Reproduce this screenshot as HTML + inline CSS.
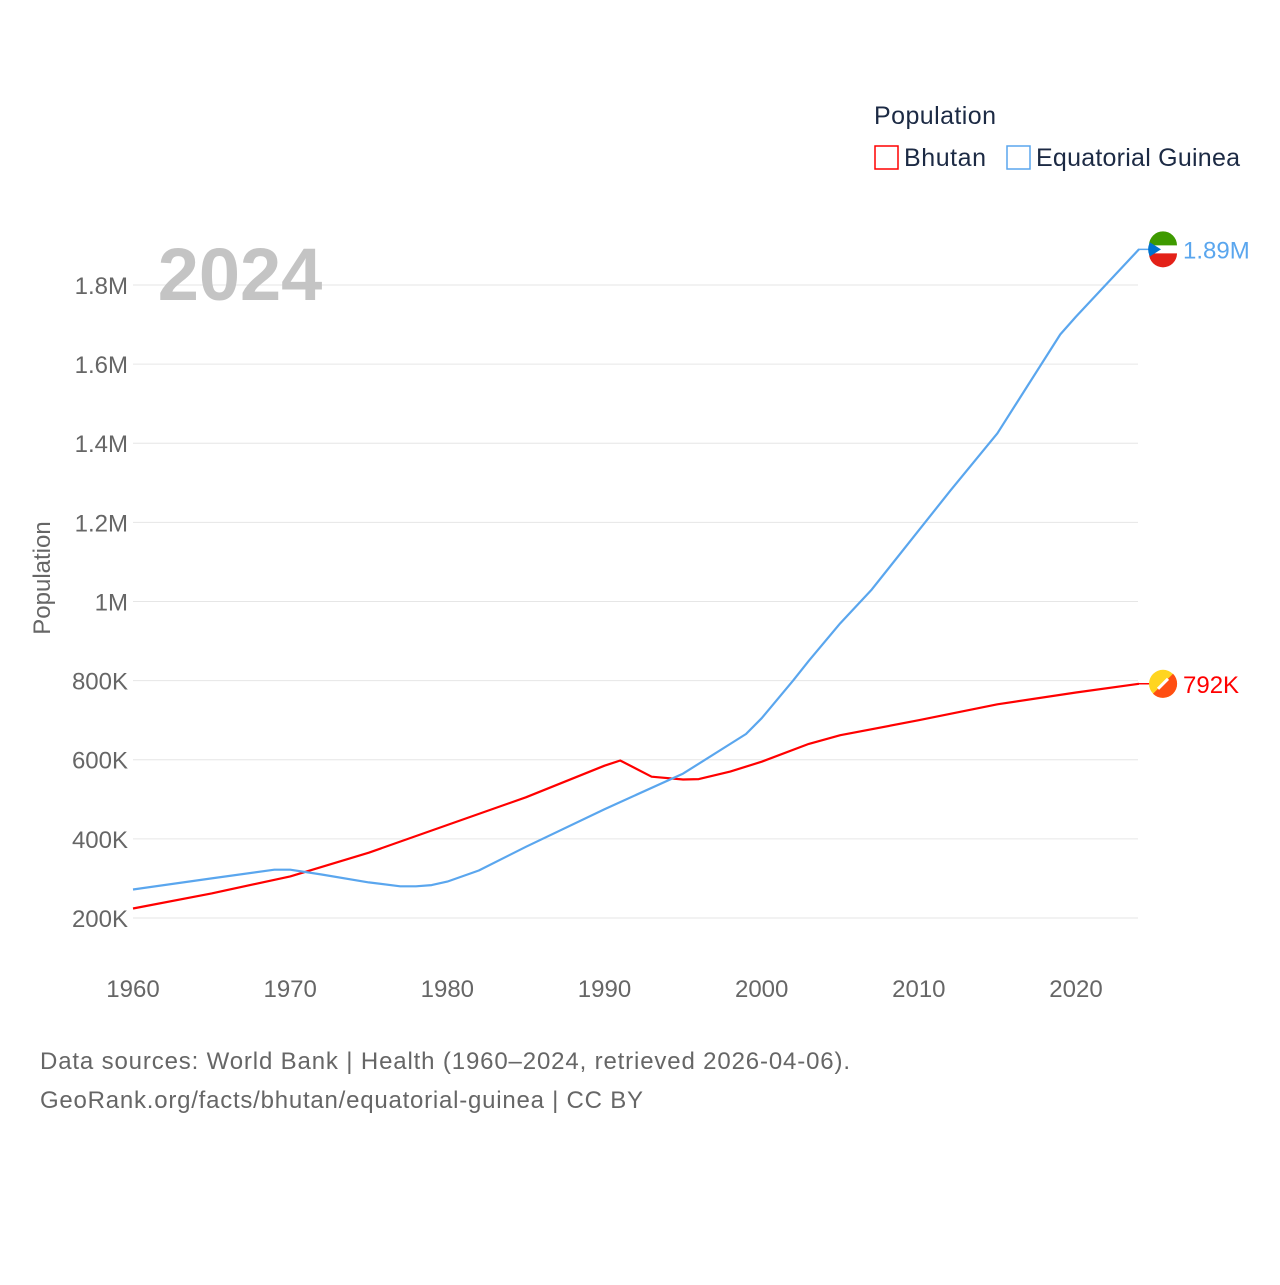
<!DOCTYPE html>
<html><head><meta charset="utf-8">
<style>
html,body{margin:0;padding:0;background:#fff;}
body{width:1280px;height:1280px;overflow:hidden;font-family:"Liberation Sans",sans-serif;}
svg text{font-family:"Liberation Sans",sans-serif;}
</style></head>
<body>
<svg id="chart" width="1280" height="1280" viewBox="0 0 1280 1280">
  <g id="grid"></g>
  <g id="yticks"></g>
  <g id="xticks"></g>
  <text x="240" y="300" font-size="74" font-weight="bold" fill="#c4c4c4" text-anchor="middle">2024</text>
  <text transform="translate(50,578) rotate(-90)" font-size="24" fill="#666" text-anchor="middle">Population</text>
  <g id="series"></g>
  <g>
    <text x="874" y="124" font-size="25" fill="#1c2a44" textLength="122">Population</text>
    <g>
      <rect x="875" y="146" width="23" height="23" fill="none" stroke="#ff0000" stroke-width="1.5"/>
      <text x="904" y="166" font-size="25" fill="#1c2a44" textLength="82">Bhutan</text>
    </g>
    <g>
      <rect x="1007" y="146" width="23" height="23" fill="none" stroke="#5aa6ee" stroke-width="1.5"/>
      <text x="1036" y="166" font-size="25" fill="#1c2a44" textLength="204">Equatorial Guinea</text>
    </g>
  </g>
  <text x="40" y="1069" font-size="24" fill="#666" textLength="810">Data sources: World Bank | Health (1960–2024, retrieved 2026-04-06).</text>
  <text x="40" y="1108" font-size="24" fill="#666" textLength="603">GeoRank.org/facts/bhutan/equatorial-guinea | CC BY</text>
</svg>
<script>
const yTicks=[200000,400000,600000,800000,1000000,1200000,1400000,1600000,1800000];
const yTickLabels=["200K","400K","600K","800K","1M","1.2M","1.4M","1.6M","1.8M"];
const xTicks=[1960,1970,1980,1990,2000,2010,2020];
const bhutanYears=[1960,1965,1970,1975,1980,1985,1990,1991,1993,1995,1996,1998,2000,2003,2005,2010,2015,2020,2024];
const bhutanValues=[224000,262000,305000,365000,435000,505000,585000,598000,557000,550000,551000,570000,595000,640000,662000,700000,740000,770000,792000];
const eqgYears=[1960,1965,1969,1970,1972,1975,1977,1978,1979,1980,1982,1985,1990,1995,1999,2000,2002,2003,2005,2007,2010,2012,2015,2017,2019,2020,2024];
const eqgValues=[272000,300000,322000,322000,310000,290000,280000,280000,283000,292000,320000,380000,475000,565000,665000,705000,800000,850000,945000,1030000,1180000,1280000,1425000,1550000,1675000,1720000,1890000];
const NS="http://www.w3.org/2000/svg";
const X=yr=>133+(yr-1960)*(1076-133)/60;
const Y=v=>997.1-v*(918-285)/1600000;
function mk(tag,attrs,parent){const e=document.createElementNS(NS,tag);for(const k in attrs)e.setAttribute(k,attrs[k]);parent.appendChild(e);return e;}
const grid=document.getElementById('grid'),yt=document.getElementById('yticks'),xt=document.getElementById('xticks'),ser=document.getElementById('series');
yTicks.forEach((v,i)=>{
  const l=mk('line',{x1:133,x2:1138,y1:Y(v),y2:Y(v),stroke:'#e6e6e6','stroke-width':1},grid);
  
  
  const t=mk('text',{x:128,y:Y(v)+9,'font-size':24,fill:'#666','text-anchor':'end'},yt);
  t.textContent=yTickLabels[i];
  
  
});
xTicks.forEach(yr=>{
  const t=mk('text',{x:X(yr),y:997,'font-size':24,fill:'#666','text-anchor':'middle'},xt);
  t.textContent=yr;
  
  
});
function line(years,vals,color,name){
  const d=years.map((y,i)=>(i?'L':'M')+X(y).toFixed(1)+','+Y(vals[i]).toFixed(1)).join(' ');
  const p=mk('path',{d:d,fill:'none',stroke:color,'stroke-width':2.2,'stroke-linejoin':'round'},ser);
  
  
}
line(bhutanYears,bhutanValues,'#ff0000','bhutan');
line(eqgYears,eqgValues,'#5aa6ee','equatorial-guinea');
function endLabel(vals,color,name,text,flag){
  const yv=Y(vals[vals.length-1]);
  mk('line',{x1:1138,x2:1150,y1:yv,y2:yv,stroke:color,'stroke-width':1.5},ser);
  const g=mk('g',{},ser);
  
  
  flag(g,1163,yv);
  const t=mk('text',{x:1183,y:yv+9,'font-size':24,fill:color},ser);
  t.textContent=text;
  
  
}
endLabel(eqgValues,'#5aa6ee','equatorial-guinea','1.89M',(g,cx,cy)=>{
  mk('circle',{cx:cx,cy:cy,r:14,fill:'#fff'},g);
  mk('path',{d:`M${cx-14},${cy-4} A14,14 0 0 1 ${cx+14},${cy-4} Z`,fill:'#3e9a00'},g);
  mk('path',{d:`M${cx-14},${cy+4} A14,14 0 0 0 ${cx+14},${cy+4} Z`,fill:'#e32118'},g);
  mk('path',{d:`M${cx-13},${cy-7} L${cx-2},${cy} L${cx-13},${cy+7} A14,14 0 0 1 ${cx-13},${cy-7} Z`,fill:'#0073ce'},g);
});
endLabel(bhutanValues,'#ff0000','bhutan','792K',(g,cx,cy)=>{
  mk('circle',{cx:cx,cy:cy,r:14,fill:'#ffd520'},g);
  mk('path',{d:`M${cx+10},${cy-10} A14,14 0 0 1 ${cx-10},${cy+10} Z`,fill:'#ff4e12'},g);
  mk('path',{d:`M${cx-5},${cy+5} L${cx+5},${cy-5}`,stroke:'#fff','stroke-width':3},g);
});
</script>
</body></html>
